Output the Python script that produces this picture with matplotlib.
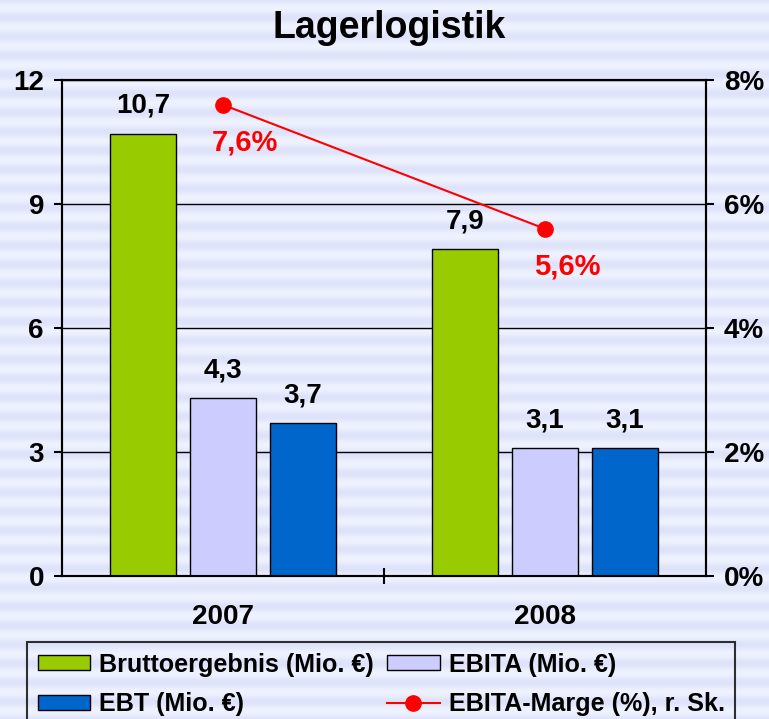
import numpy as np
import matplotlib
matplotlib.use("Agg")
import matplotlib.pyplot as plt

plt.rcParams['font.family'] = ['Liberation Sans', 'DejaVu Sans']
plt.rcParams['font.weight'] = 'bold'

# ---- data ----
categories = ['2007', '2008']
brutto = [10.7, 7.9]
ebita = [4.3, 3.1]
ebt = [3.7, 3.1]
marge = [7.6, 5.6]
left_ticks = [0, 3, 6, 9, 12]
right_ticks = [0, 2, 4, 6, 8]
series_names = ['Bruttoergebnis (Mio. €)', 'EBITA (Mio. €)', 'EBT (Mio. €)',
                'EBITA-Marge (%), r. Sk.']
title = 'Lagerlogistik'

W, H = 769, 719
fig = plt.figure(figsize=(W / 100, H / 100), dpi=100)

# striped background
bg = fig.add_axes([0, 0, 1, 1], zorder=-10)
yy = np.arange(H)
t = 0.5 + 0.5 * np.cos(2 * np.pi * (yy - 17) / 19.0)
light = np.array([239, 242, 255]) / 255
dark = np.array([222, 227, 250]) / 255
img = light[None, :] * (1 - t[:, None]) + dark[None, :] * t[:, None]
bg.imshow(img[:, None, :], aspect='auto', extent=(0, 1, 0, 1), interpolation='bilinear')
bg.axis('off')

ax = fig.add_axes([62 / W, 1 - 576 / H, (706 - 62) / W, (576 - 80) / H])
ax.set_facecolor('none')
x = np.arange(len(categories))
w = 0.205
off = 0.247
b1 = ax.bar(x - off, brutto, w, color='#99cc00', edgecolor='black', linewidth=1, zorder=3)
b2 = ax.bar(x, ebita, w, color='#ccccff', edgecolor='black', linewidth=1, zorder=3)
b3 = ax.bar(x + off, ebt, w, color='#0066cc', edgecolor='black', linewidth=1, zorder=3)

for bars, vals in ((b1, brutto), (b2, ebita), (b3, ebt)):
    for r, v in zip(bars, vals):
        ax.annotate(f"{v:.1f}".replace('.', ','), (r.get_x() + r.get_width() / 2, v),
                    xytext=(0, 15), textcoords='offset points', ha='center',
                    va='baseline', fontsize=20, fontweight='bold', color='black')

ax.set_xlim(-0.5, 1.5)
ax.set_ylim(0, 12)
ax.set_yticks(left_ticks)
ax.set_yticklabels([str(v) for v in left_ticks])
ax.set_xticks(x)
ax.set_xticklabels(categories)
ax.set_xticks([0.5], minor=True)
ax.tick_params(axis='x', which='major', length=0, pad=20, labelsize=20)
ax.tick_params(axis='x', which='minor', length=11.5, width=1.5, direction='inout')
ax.tick_params(axis='y', length=6, width=1.5, direction='out', pad=7, labelsize=20)
ax.grid(axis='y', color='black', linewidth=1)
ax.set_axisbelow(True)
for s in ax.spines.values():
    s.set_linewidth(1.5)

ax2 = ax.twinx()
ax2.set_ylim(0, 8)
ax2.set_yticks(right_ticks)
ax2.set_yticklabels([f"{v}%" for v in right_ticks])
ax2.tick_params(axis='y', length=6, width=1.5, direction='out', pad=7, labelsize=20)
for s in ax2.spines.values():
    s.set_linewidth(1.5)
ln, = ax2.plot(x, marge, color='#ff0000', linewidth=1.5, marker='o', markersize=11, zorder=5)
for xi, m in zip(x, marge):
    ax2.annotate(f"{m:.1f}".replace('.', ',') + '%', (xi, m), xytext=(16, -27),
                 textcoords='offset points', ha='center', va='center',
                 fontsize=21, fontweight='bold', color='#ff0000')

fig.text(389 / W, 1 - 28 / H, title, ha='center', va='center', fontsize=27, fontweight='bold')

handles = [b1, b3, b2, ln]
labels = [series_names[0], series_names[2], series_names[1], series_names[3]]
leg = fig.legend(handles, labels, loc='upper left', bbox_to_anchor=(27 / W, 1 - 642 / H),
                 bbox_transform=fig.transFigure, ncol=2, frameon=True, fancybox=False,
                 edgecolor='black', facecolor='none', framealpha=None, fontsize=18.1,
                 handlelength=2.1, handleheight=0.52, handletextpad=0.36,
                 columnspacing=0.5, labelspacing=0.62, borderpad=0.42, borderaxespad=0)
leg.get_frame().set_linewidth(1.5)

fig.savefig('out.png', dpi=100)
